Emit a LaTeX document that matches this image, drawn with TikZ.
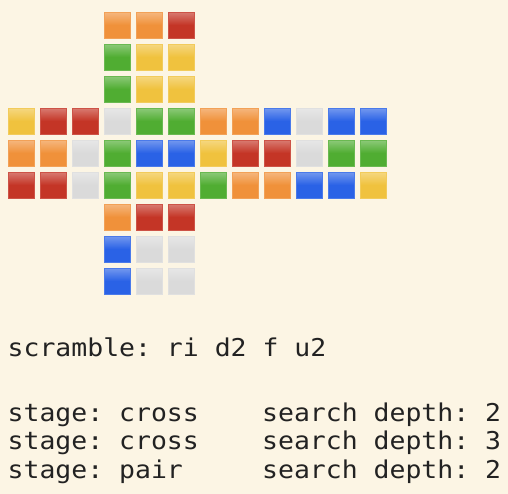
\documentclass[tikz,border=0pt]{standalone}
\usepackage{fontspec}
\usepackage{graphicx}
\newfontfamily\cubemono{DejaVu Sans Mono}
\definecolor{bgc}{HTML}{FCF5E4}
\definecolor{textc}{HTML}{222222}
\definecolor{O}{HTML}{F0913A}
\definecolor{R}{HTML}{C43526}
\definecolor{G}{HTML}{50AD32}
\definecolor{Y}{HTML}{F0C23E}
\definecolor{B}{HTML}{2A62E6}
\definecolor{W}{HTML}{DADADA}
\newcommand\cubetile[3]{%
  \fill[#3] ({8+32*#1},{12+32*#2}) rectangle ++(27,27);
  \shade[top color=#3!68!white, bottom color=#3] ({9+32*#1},{13+32*#2}) rectangle ++(25,12);
  \draw[#3!85!white, line width=0.7pt] ({8.5+32*#1},{12.5+32*#2}) rectangle ++(26,26);
}
\newcommand\wide[1]{\scalebox{1.08}[1]{#1}}
\frenchspacing
\begin{document}
\begin{tikzpicture}[x=1pt,y=-1pt,
  txt/.style={anchor=base west, inner sep=0pt, text=textc,
    font=\cubemono\fontsize{24.5}{28}\selectfont\frenchspacing}]
\fill[bgc] (0,0) rectangle (508,494);
\useasboundingbox (0,0) rectangle (508,494);
% top face
\foreach \c/\r/\k in {3/0/O,4/0/O,5/0/R,
                      3/1/G,4/1/Y,5/1/Y,
                      3/2/G,4/2/Y,5/2/Y}{\cubetile{\c}{\r}{\k}}
% middle band
\foreach \k [count=\i from 0] in {Y,R,R,W,G,G,O,O,B,W,B,B}{\cubetile{\i}{3}{\k}}
\foreach \k [count=\i from 0] in {O,O,W,G,B,B,Y,R,R,W,G,G}{\cubetile{\i}{4}{\k}}
\foreach \k [count=\i from 0] in {R,R,W,G,Y,Y,G,O,O,B,B,Y}{\cubetile{\i}{5}{\k}}
% bottom face
\foreach \c/\r/\k in {3/6/O,4/6/R,5/6/R,
                      3/7/B,4/7/W,5/7/W,
                      3/8/B,4/8/W,5/8/W}{\cubetile{\c}{\r}{\k}}
% text
\node[txt] (scr) at (7.5,356) {\wide{scramble: ri d2 f u2}};
\node[txt] (s1) at (7.5,421) {\wide{stage: cross}};
\node[txt] (d1) at (262,421) {\wide{search depth: 2}};
\node[txt] (s2) at (7.5,449.5) {\wide{stage: cross}};
\node[txt] (d2) at (262,449.5) {\wide{search depth: 3}};
\node[txt] (s3) at (7.5,478) {\wide{stage: pair}};
\node[txt] (d3) at (262,478) {\wide{search depth: 2}};
\end{tikzpicture}
\end{document}
